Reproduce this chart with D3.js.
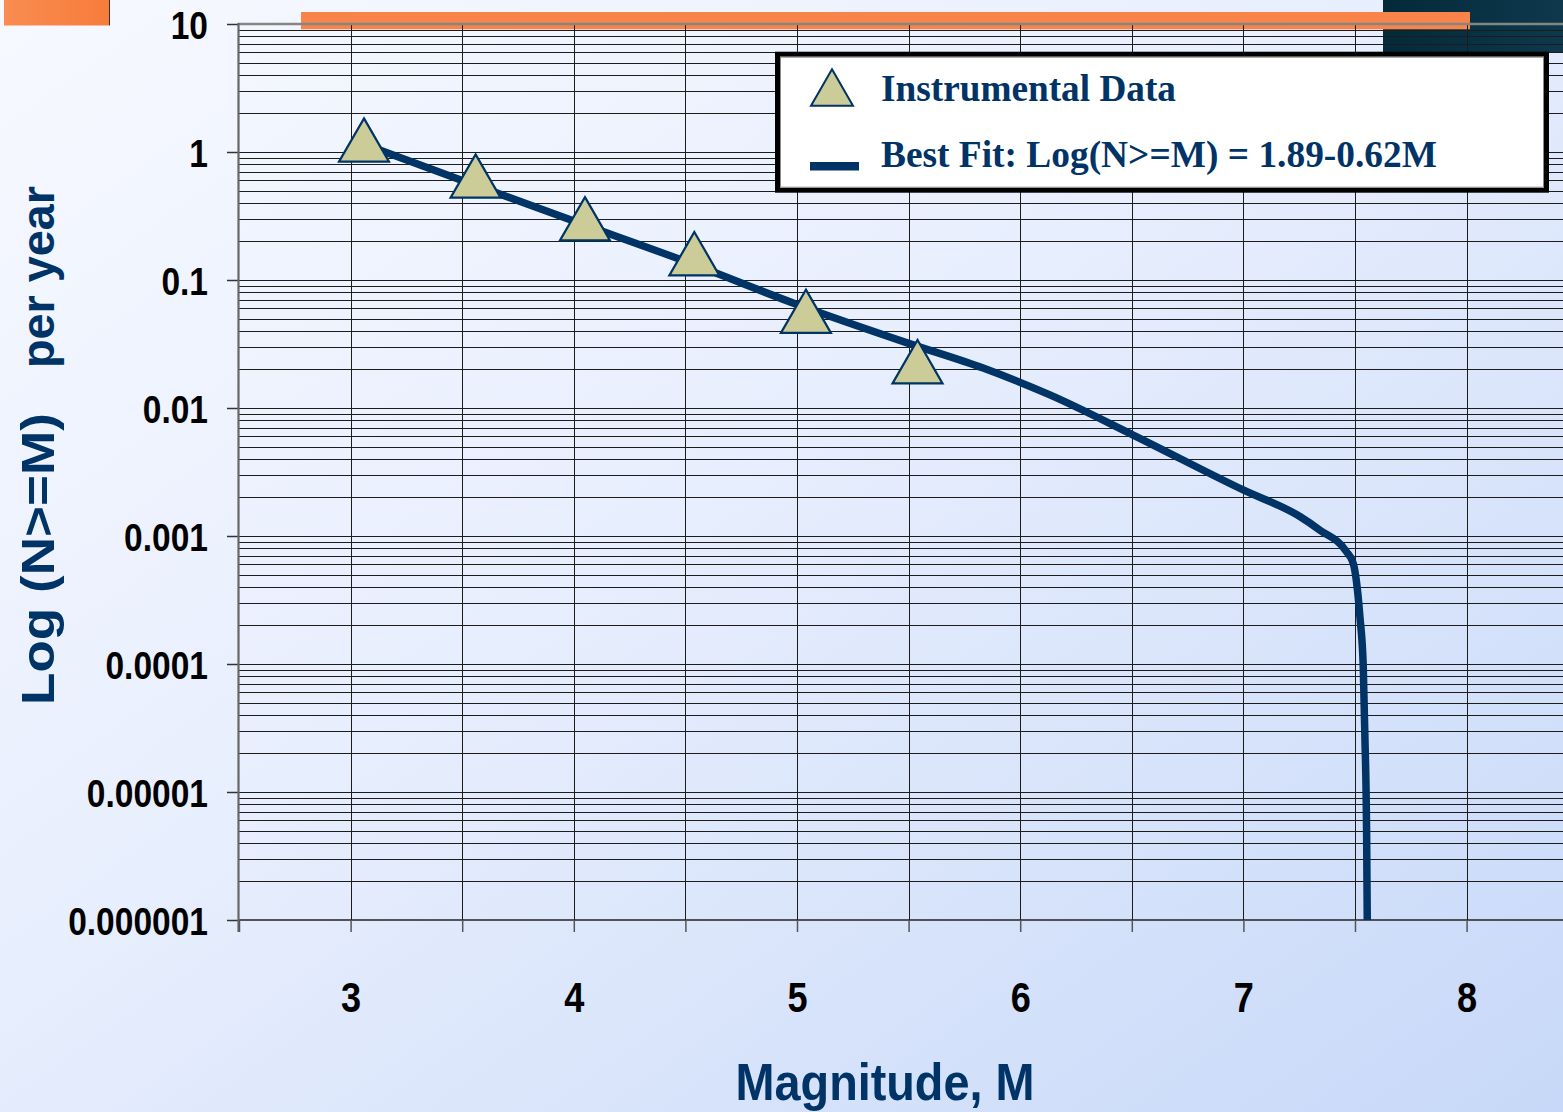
<!DOCTYPE html>
<html>
<head>
<meta charset="utf-8">
<script src="https://cdn.jsdelivr.net/npm/d3@7"></script>
<style>
  html, body { margin: 0; padding: 0; overflow: hidden; }
  svg { display: block; }
</style>
</head>
<body>
<svg id="chart" width="1563" height="1112"></svg>
<script>
// ---- data ----
const dataMagnitudes = [3.06, 3.56, 4.05, 4.54, 5.04, 5.54];
const dataRates = [1.09, 0.57, 0.264, 0.141, 0.050, 0.0202];

const fitMagnitudes = [3.06, 3.5, 4.0, 4.5, 5.0, 5.5, 5.834, 6.133, 6.506, 6.999, 7.253, 7.343, 7.462, 7.492, 7.522, 7.537, 7.544, 7.552, 7.555];
const fitRates = [1.15, 0.60, 0.289, 0.140, 0.0644, 0.032, 0.0205, 0.01265, 0.00615, 0.00229, 0.00142, 0.00111, 0.000753, 0.000612, 0.000234, 0.0000953, 0.0000288, 0.00000475, 0.000001];

const yTickValues = [10, 1, 0.1, 0.01, 0.001, 0.0001, 0.00001, 0.000001];
const yTickLabels = ["10", "1", "0.1", "0.01", "0.001", "0.0001", "0.00001", "0.000001"];
const xTickValues = [2.5, 3, 3.5, 4, 4.5, 5, 5.5, 6, 6.5, 7, 7.5, 8, 8.5];
const xTickLabels = ["", "3", "", "4", "", "5", "", "6", "", "7", "", "8", ""];

const legendLabels = ["Instrumental Data", "Best Fit: Log(N>=M) = 1.89-0.62M"];
const xTitle = "Magnitude, M";
const yTitleParts = ["Log (N>=M)", "per year"];

// ---- setup ----
const W = 1563, H = 1112;
const navy = "#003366";
const svg = d3.select("#chart");
const defs = svg.append("defs");

const bg = defs.append("linearGradient").attr("id", "bg")
  .attr("x1", "0").attr("y1", "0").attr("x2", "1").attr("y2", "1");
bg.append("stop").attr("offset", "0").attr("stop-color", "#f7f9ff");
bg.append("stop").attr("offset", "0.45").attr("stop-color", "#e7eefd");
bg.append("stop").attr("offset", "1").attr("stop-color", "#c7d8f8");

const og = defs.append("linearGradient").attr("id", "og")
  .attr("x1", "0").attr("y1", "0").attr("x2", "1").attr("y2", "0");
og.append("stop").attr("offset", "0").attr("stop-color", "#f98c50");
og.append("stop").attr("offset", "1").attr("stop-color", "#f77c3b");

const tg = defs.append("linearGradient").attr("id", "tg")
  .attr("x1", "0").attr("y1", "0").attr("x2", "1").attr("y2", "0");
tg.append("stop").attr("offset", "0").attr("stop-color", "#022a39");
tg.append("stop").attr("offset", "1").attr("stop-color", "#0f384d");

svg.append("rect").attr("width", W).attr("height", H).attr("fill", "url(#bg)");

// decorations
svg.append("rect").attr("x", 4).attr("y", 0).attr("width", 105).attr("height", 25.5).attr("fill", "url(#og)");
svg.append("line").attr("x1", 109.5).attr("x2", 109.5).attr("y1", 0).attr("y2", 25.5).attr("stroke", "#333").attr("stroke-width", 1);
svg.append("rect").attr("x", 1383).attr("y", 0).attr("width", 180).attr("height", 52).attr("fill", "url(#tg)");
svg.append("rect").attr("x", 301).attr("y", 12).attr("width", 1169).attr("height", 17.3).attr("fill", "#f8844a");

// scales
const x = d3.scaleLinear().domain([2.5, 8.5]).range([239, 1578.2]);
const y = d3.scaleLog().domain([0.000001, 10]).range([920, 24]);

// horizontal grid (minor and major)
const hGrid = [];
for (let e = -6; e < 1; e++) {
  for (let k = 1; k <= 9; k++) hGrid.push(k * Math.pow(10, e));
}
hGrid.push(10);
const grid = svg.append("g");
grid.selectAll("line.h").data(hGrid.filter(v => v > 0.000001 && v < 10)).join("line")
  .attr("class", "h")
  .attr("x1", x(2.5)).attr("x2", W)
  .attr("y1", d => Math.round(y(d)) + 0.5).attr("y2", d => Math.round(y(d)) + 0.5)
  .attr("stroke", "#1c1c1c").attr("stroke-width", 1)
  .attr("shape-rendering", "crispEdges");

// vertical grid
grid.selectAll("line.v").data(xTickValues.filter(v => v > 2.5)).join("line")
  .attr("class", "v")
  .attr("x1", d => Math.round(x(d)) + 0.5).attr("x2", d => Math.round(x(d)) + 0.5)
  .attr("y1", y(10)).attr("y2", y(0.000001))
  .attr("stroke", "#1c1c1c").attr("stroke-width", 1)
  .attr("shape-rendering", "crispEdges");

// bottom axis line
svg.append("line").attr("x1", x(2.5)).attr("x2", W).attr("y1", y(0.000001)).attr("y2", y(0.000001))
  .attr("stroke", "#222").attr("stroke-width", 1.5);
// top border
svg.append("line").attr("x1", x(2.5) - 1).attr("x2", W).attr("y1", y(10)).attr("y2", y(10))
  .attr("stroke", "#858585").attr("stroke-width", 2.5);

// y axis
const yAxis = d3.axisLeft(y).tickValues(yTickValues).tickSize(12)
  .tickFormat((d, i) => yTickLabels[i]);
const gy = svg.append("g").attr("transform", `translate(${x(2.5)},0)`).call(yAxis);
gy.select(".domain").remove();
gy.selectAll(".tick line").attr("stroke", "#333").attr("stroke-width", 1.5);
gy.selectAll(".tick text")
  .attr("x", 0).attr("dy", "0.36em")
  .attr("transform", "translate(-31,0) scale(0.86,1)")
  .attr("text-anchor", "end")
  .attr("fill", "#000")
  .style("font-family", "'Liberation Sans', Arial, sans-serif")
  .style("font-weight", "bold")
  .style("font-size", "39px");

// left axis line
svg.append("line").attr("x1", x(2.5) - 0.5).attr("x2", x(2.5) - 0.5).attr("y1", y(10) - 1).attr("y2", y(0.000001) + 12)
  .attr("stroke", "#666").attr("stroke-width", 2.2);

// x axis
const xAxis = d3.axisBottom(x).tickValues(xTickValues).tickSize(12)
  .tickFormat((d, i) => xTickLabels[i]);
const gx = svg.append("g").attr("transform", `translate(0,${y(0.000001)})`).call(xAxis);
gx.select(".domain").remove();
gx.selectAll(".tick line").attr("stroke", "#555").attr("stroke-width", 1.5);
gx.selectAll(".tick text")
  .attr("y", 0).attr("dy", 0)
  .attr("transform", "translate(0,92) scale(0.86,1)")
  .attr("fill", "#000")
  .style("font-family", "'Liberation Sans', Arial, sans-serif")
  .style("font-weight", "bold")
  .style("font-size", "42px");

// fit line
const fitData = fitMagnitudes.map((m, i) => [m, fitRates[i]]);
const line = d3.line().x(d => x(d[0])).y(d => y(d[1])).curve(d3.curveMonotoneX);
svg.append("path").datum(fitData)
  .attr("d", line)
  .attr("fill", "none")
  .attr("stroke", navy)
  .attr("stroke-width", 7.5)
  .attr("stroke-linejoin", "round")
  .attr("stroke-linecap", "butt");

// triangles
const tri = d3.symbol().type(d3.symbolTriangle).size(1082);
const pts = dataMagnitudes.map((m, i) => [m, dataRates[i]]);
svg.selectAll("path.tri").data(pts).join("path")
  .attr("class", "tri")
  .attr("d", tri)
  .attr("transform", d => `translate(${x(d[0])},${y(d[1])})`)
  .attr("fill", "#cccc99")
  .attr("stroke", navy)
  .attr("stroke-width", 2.2)
  .attr("stroke-linejoin", "miter");

// legend
const lg = svg.append("g");
lg.append("rect").attr("x", 777.5).attr("y", 54.2).attr("width", 769).attr("height", 136)
  .attr("fill", "#ffffff").attr("stroke", "#000").attr("stroke-width", 5);
lg.append("rect").attr("x", 780.5).attr("y", 57.2).attr("width", 763).attr("height", 130)
  .attr("fill", "none").attr("stroke", "#8a8a8a").attr("stroke-width", 1);
lg.append("path").attr("d", d3.symbol().type(d3.symbolTriangle).size(763))
  .attr("transform", "translate(832,93.6)")
  .attr("fill", "#cccc99").attr("stroke", navy).attr("stroke-width", 2);
lg.append("line").attr("x1", 810).attr("x2", 859).attr("y1", 166.3).attr("y2", 166.3)
  .attr("stroke", navy).attr("stroke-width", 8.5);
const legendY = [101, 167];
const legendW = [295, 556];
lg.selectAll("text").data(legendLabels).join("text")
  .attr("x", 881).attr("y", (d, i) => legendY[i])
  .attr("textLength", (d, i) => legendW[i])
  .attr("lengthAdjust", "spacingAndGlyphs")
  .attr("fill", navy)
  .style("font-family", "'Liberation Serif', 'Times New Roman', serif")
  .style("font-weight", "bold")
  .style("font-size", "38px")
  .text(d => d);

// axis titles
svg.append("text")
  .attr("transform", "translate(885,1100) scale(0.9,1)")
  .attr("text-anchor", "middle")
  .attr("fill", navy)
  .style("font-family", "'Liberation Sans', Arial, sans-serif")
  .style("font-weight", "bold")
  .style("font-size", "52px")
  .text(xTitle);

const yTitleStart = [705, 368];
const yTitleLen = [292, 182];
yTitleParts.forEach((t, i) => {
  svg.append("text")
    .attr("transform", `translate(54,${yTitleStart[i]}) scale(0.88,1) rotate(-90)`)
    .attr("text-anchor", "start")
    .attr("textLength", yTitleLen[i])
    .attr("lengthAdjust", "spacingAndGlyphs")
    .attr("fill", navy)
    .style("font-family", "'Liberation Sans', Arial, sans-serif")
    .style("font-weight", "bold")
    .style("font-size", "53px")
    .text(t);
});
</script>
</body>
</html>
